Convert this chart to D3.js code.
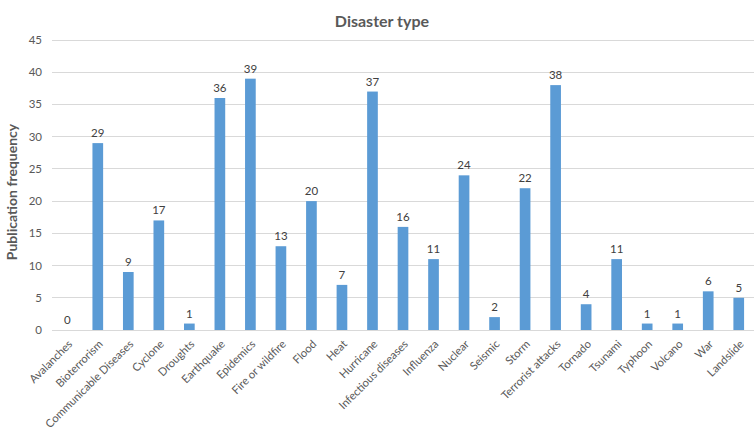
<!DOCTYPE html>
<html><head><meta charset="utf-8">
<script src="https://cdn.jsdelivr.net/npm/d3@7/dist/d3.min.js"></script>
<style>body{margin:0;background:#fff;} svg{display:block;font-family:Lato,"Open Sans",sans-serif;}</style>
</head><body>
<svg id="c" width="754" height="431"></svg>
<script>
const categories = ["Avalanches","Bioterrorism","Communicable Diseases","Cyclone","Droughts","Earthquake","Epidemics","Fire or wildfire","Flood","Heat","Hurricane","Infectious diseases","Influenza","Nuclear","Seismic","Storm","Terrorist attacks","Tornado","Tsunami","Typhoon","Volcano","War","Landslide"];
const values = [0,29,9,17,1,36,39,13,20,7,37,16,11,24,2,22,38,4,11,1,1,6,5];
const yTicks = [0,5,10,15,20,25,30,35,40,45];

(function(){
const svg = d3.select("#c");
const pL = 52, pR = 754, pT = 40, pB = 330;
const x = d3.scaleBand().domain(categories).range([pL, pR]).paddingInner(0.65).paddingOuter(0.325);
const y = d3.scaleLinear().domain([0,45]).range([pB, pT]);

svg.append("g").selectAll("line").data(yTicks).join("line")
  .attr("x1", pL).attr("x2", pR)
  .attr("y1", d => y(d)).attr("y2", d => y(d))
  .attr("stroke", "#d9d9d9").attr("stroke-width", 1).attr("shape-rendering","crispEdges");

svg.append("g").selectAll("text").data(yTicks).join("text")
  .attr("x", pL - 10).attr("y", d => y(d)).attr("dy","0.35em")
  .attr("text-anchor","end").attr("font-size", 11.5).attr("fill","#595959")
  .text(d => d);

svg.append("g").selectAll("rect").data(values).join("rect")
  .attr("x", (d,i) => x(categories[i])).attr("width", x.bandwidth())
  .attr("y", d => y(d)).attr("height", d => pB - y(d))
  .attr("fill", "#5b9bd5");

svg.append("g").selectAll("text").data(values).join("text")
  .attr("x", (d,i) => x(categories[i]) + x.bandwidth()/2)
  .attr("y", d => y(d) - 6)
  .attr("text-anchor","middle").attr("font-size", 11.5).attr("fill","#404040")
  .text(d => d);

svg.append("g").selectAll("text").data(categories).join("text")
  .attr("transform", d => `translate(${x(d) + x.bandwidth()/2 + 3},${pB + 12}) rotate(-45)`)
  .attr("text-anchor","end").attr("dy","0.35em").attr("font-size", 11.2).attr("fill","#595959")
  .text(d => d);

svg.append("text").attr("x", 382).attr("y", 27).attr("text-anchor","middle")
  .attr("font-size", 16).attr("font-weight","bold").attr("fill","#595959").text("Disaster type");

svg.append("text").attr("transform", `translate(17,192) rotate(-90)`)
  .attr("text-anchor","middle").attr("font-size", 14).attr("font-weight","bold").attr("fill","#595959")
  .text("Publication frequency");
})();
</script>
</body></html>
